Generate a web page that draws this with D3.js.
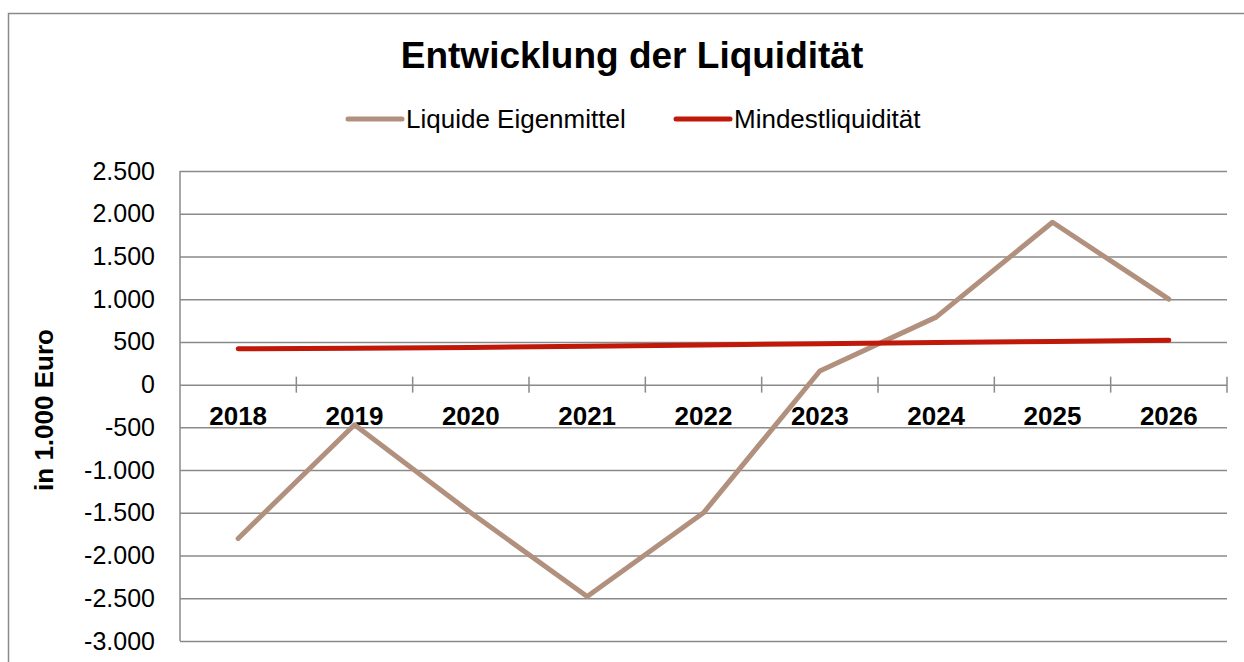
<!DOCTYPE html>
<html>
<head>
<meta charset="utf-8">
<script src="https://cdn.jsdelivr.net/npm/d3@7"></script>
<style>
	body { margin: 0; background: #fff; }
	svg text { font-family: "Liberation Sans", Arial, sans-serif; fill: #000; }
</style>
</head>
<body>
<div id="chart"></div>
<script>
// values (in 1.000 Euro)
const years = ["2018", "2019", "2020", "2021", "2022", "2023", "2024", "2025", "2026"]
const liquideEigenmittel = [-1800, -470, -1500, -2480, -1500, 160, 790, 1900, 1000]
const mindestliquiditaet = [420, 425, 435, 450, 465, 478, 492, 506, 520]
const yTicks = [2500, 2000, 1500, 1000, 500, 0, -500, -1000, -1500, -2000, -2500, -3000]
const seriesNames = ["Liquide Eigenmittel", "Mindestliquidität"]

const init = () => {
	const width = 1244, height = 662
	const plot = { left: 180, right: 1227, top: 171, bottom: 641 }
	const gridColor = "#8a8a8a"
	const colors = ["#b2907e", "#c0190a"]

	const de = d3.formatLocale({ decimal: ",", thousands: ".", grouping: [3], currency: ["", " €"], minus: "-" })
	const fmt = de.format(",d")

	const svg = d3.select("#chart").append("svg").attr("width", width).attr("height", height)

	// outer chart border (runs off the right and bottom edge)
	svg.append("rect").attr("x", 8.5).attr("y", 13.5).attr("width", 1300).attr("height", 700)
		.attr("fill", "none").attr("stroke", gridColor).attr("stroke-width", 1.5)

	const xs = d3.scaleBand().domain(years).range([plot.left, plot.right]).padding(0)
	const ys = d3.scaleLinear().domain([-3000, 2500]).range([plot.bottom, plot.top])
	const cx = d => xs(d) + xs.bandwidth() / 2

	// horizontal gridlines + y labels
	const yAxis = svg.append("g").attr("transform", `translate(${plot.left},0)`)
		.call(d3.axisLeft(ys).tickValues(yTicks).tickFormat(fmt).tickSize(-(plot.right - plot.left)).tickPadding(25))
	yAxis.select(".domain").attr("stroke", gridColor).attr("stroke-width", 1.5)
		.attr("d", `M0,${plot.top}V${plot.bottom}`)
	yAxis.selectAll(".tick line").attr("stroke", gridColor).attr("stroke-width", 1.5)
	yAxis.selectAll(".tick text").attr("font-size", 25).attr("font-family", "Liberation Sans, Arial, sans-serif")

	// category axis sits on the zero line
	const xAxis = svg.append("g").attr("transform", `translate(0,${ys(0)})`)
		.call(d3.axisBottom(xs).tickSize(0).tickPadding(22))
	xAxis.select(".domain").remove()
	xAxis.selectAll(".tick text").attr("font-size", 26).attr("font-weight", "bold")
		.attr("font-family", "Liberation Sans, Arial, sans-serif")

	// cross tick marks on the category boundaries
	svg.append("g").selectAll("line").data(years).join("line")
		.attr("x1", d => xs(d) + xs.bandwidth()).attr("x2", d => xs(d) + xs.bandwidth())
		.attr("y1", ys(0) - 8).attr("y2", ys(0) + 8)
		.attr("stroke", gridColor).attr("stroke-width", 1.5)

	const line = d3.line().x((d, i) => cx(years[i])).y(d => ys(d))

	svg.append("path").datum(liquideEigenmittel).attr("d", line)
		.attr("fill", "none").attr("stroke", colors[0]).attr("stroke-width", 5)
		.attr("stroke-linecap", "round").attr("stroke-linejoin", "round")
	svg.append("path").datum(mindestliquiditaet).attr("d", line)
		.attr("fill", "none").attr("stroke", colors[1]).attr("stroke-width", 5)
		.attr("stroke-linecap", "round").attr("stroke-linejoin", "round")

	// title
	svg.append("text").attr("x", 632).attr("y", 68).attr("text-anchor", "middle")
		.attr("font-size", 37).attr("font-weight", "bold").text("Entwicklung der Liquidität")

	// legend
	const legendX = [348, 676]
	const legend = svg.append("g").selectAll("g").data(seriesNames).join("g")
		.attr("transform", (d, i) => `translate(${legendX[i]},119)`)
	legend.append("line").attr("x1", 0).attr("x2", 54).attr("y1", 0).attr("y2", 0)
		.attr("stroke", (d, i) => colors[i]).attr("stroke-width", 5).attr("stroke-linecap", "round")
	legend.append("text").attr("x", 58).attr("y", 9).attr("font-size", 26).text(d => d)

	// y axis title
	svg.append("text").attr("transform", "translate(53,410) rotate(-90)").attr("text-anchor", "middle")
		.attr("font-size", 26).attr("font-weight", "bold").text("in 1.000 Euro")
}

init()
</script>
</body>
</html>
